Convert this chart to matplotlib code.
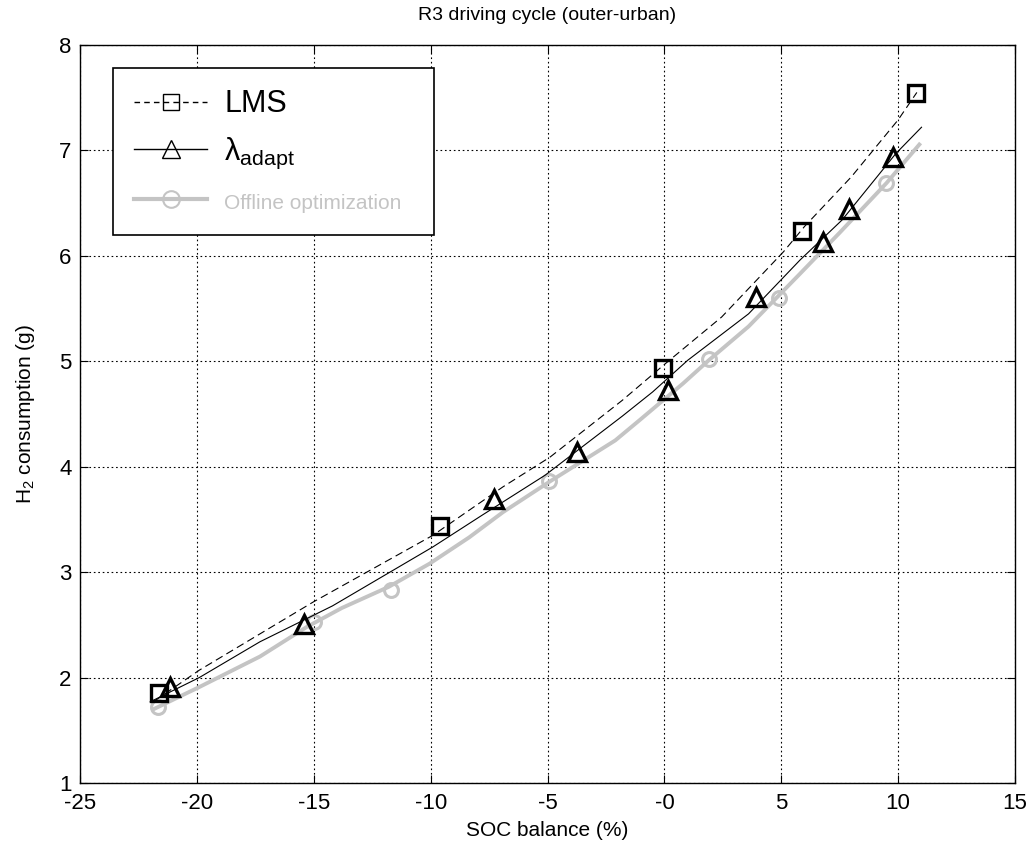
import matplotlib
matplotlib.use("Agg")
import matplotlib.pyplot as plt
from matplotlib.lines import Line2D

plt.rcParams['font.family'] = ['Liberation Sans', 'DejaVu Sans']
plt.rcParams['mathtext.fontset'] = 'custom'
plt.rcParams['mathtext.rm'] = 'Liberation Sans'
plt.rcParams['mathtext.it'] = 'Liberation Sans:italic'
plt.rcParams['mathtext.bf'] = 'Liberation Sans:bold'

title = "R3 driving cycle (outer-urban)"
xlabel = "SOC balance (%)"
ylabel = "H$_2$ consumption (g)"
series_labels = ["LMS", "λ$_{\\mathrm{adapt}}$", "Offline optimization"]

# LMS: fitted curve and measured points
lms_line_x = [-21.8, -19.9, -15.0, -9.9, -6.9, -4.9, -1.8, 0.0, 2.45, 5.1, 6.0, 8.0, 10.0, 10.8]
lms_line_y = [1.78, 2.07, 2.72, 3.35, 3.81, 4.09, 4.63, 4.97, 5.42, 6.04, 6.28, 6.75, 7.29, 7.55]
lms_pts_x = [-21.6, -9.6, -0.05, 5.9, 10.75]
lms_pts_y = [1.85, 3.44, 4.94, 6.24, 7.54]

# lambda_adapt: fitted curve and measured points
lam_line_x = [-22.0, -19.9, -17.3, -14.2, -9.9, -7.8, -5.1, -1.8, -0.5, 1.0, 3.6, 5.8, 7.6, 9.9, 11.0]
lam_line_y = [1.77, 2.00, 2.34, 2.68, 3.24, 3.54, 3.92, 4.48, 4.71, 5.01, 5.45, 5.96, 6.34, 6.97, 7.22]
lam_pts_x = [-21.13, -15.4, -7.3, -3.75, 0.15, 3.9, 6.78, 7.9, 9.78]
lam_pts_y = [1.91, 2.51, 3.69, 4.14, 4.73, 5.61, 6.13, 6.44, 6.94]

# Offline optimization: curve and points
off_line_x = [-21.95, -19.9, -17.3, -15.3, -13.8, -11.8, -10.05, -8.35, -6.9, -4.9, -2.1, -1.07, 0.8, 1.9, 3.6, 5.8, 7.5, 9.5, 10.96]
off_line_y = [1.69, 1.91, 2.20, 2.48, 2.66, 2.86, 3.08, 3.33, 3.57, 3.86, 4.25, 4.44, 4.79, 5.01, 5.33, 5.83, 6.22, 6.69, 7.07]
off_pts_x = [-21.67, -15.0, -11.7, -4.93, 1.92, 4.9, 9.46]
off_pts_y = [1.72, 2.53, 2.83, 3.86, 5.02, 5.60, 6.69]

xticks = [-25, -20, -15, -10, -5, 0, 5, 10, 15]
xticklabels = ["-25", "-20", "-15", "-10", "-5", "-0", "5", "10", "15"]
yticks = [1, 2, 3, 4, 5, 6, 7, 8]

gray = '#c4c4c4'

fig = plt.figure(figsize=(10.31, 8.49), dpi=100)
ax = fig.add_axes([0.0776, 0.0777, 0.9069, 0.8693])

ax.plot(off_line_x, off_line_y, color=gray, lw=2.8, solid_capstyle='butt', zorder=2)
ax.plot(off_pts_x, off_pts_y, ls='none', marker='o', ms=10, mfc='none', mec=gray, mew=2.2, zorder=2)
ax.plot(lam_line_x, lam_line_y, color='k', lw=0.8, zorder=3)
ax.plot(lam_pts_x, lam_pts_y, ls='none', marker='^', ms=13, mfc='none', mec='k', mew=2.4, zorder=4)
ax.plot(lms_line_x, lms_line_y, color='k', lw=0.8, ls=(0, (7, 4)), zorder=3)
ax.plot(lms_pts_x, lms_pts_y, ls='none', marker='s', ms=11, mfc='none', mec='k', mew=2.4, zorder=4)

ax.set_xlim(-25, 15)
ax.set_ylim(1, 8)
ax.set_xticks(xticks)
ax.set_xticklabels(xticklabels)
ax.set_yticks(yticks)
ax.tick_params(direction='in', top=True, right=True, length=6, width=0.8, labelsize=16)
ax.tick_params(axis='x', pad=7)
ax.tick_params(axis='y', pad=6)
ax.grid(True, color='k', ls=(0, (1.5, 2.5)), lw=0.8)
for s in ax.spines.values():
    s.set_linewidth(1.0)

ax.set_title(title, fontsize=14, pad=18)
ax.set_xlabel(xlabel, fontsize=15, labelpad=5)
ax.set_ylabel(ylabel, fontsize=15, labelpad=16)

handles = [
    Line2D([], [], color='k', ls=(0, (4, 3)), lw=1.0, marker='s', ms=11, mfc='none', mec='k', mew=1.0),
    Line2D([], [], color='k', lw=1.0, marker='^', ms=13, mfc='none', mec='k', mew=1.0),
    Line2D([], [], color=gray, lw=3.0, marker='o', ms=12, mfc='none', mec=gray, mew=1.5),
]
leg = ax.legend(handles, series_labels, loc='upper left', bbox_to_anchor=(0.035, 0.969, 0.3433, 0.0),
                mode='expand', fontsize=22, frameon=True, fancybox=False, edgecolor='k', framealpha=1,
                handlelength=2.4, handletextpad=0.55, labelspacing=0.55, borderpad=0.7,
                borderaxespad=0)
leg.get_frame().set_linewidth(1.2)
t = leg.get_texts()
t[2].set_fontsize(15)
t[2].set_color(gray)

fig.savefig("out.png", dpi=100)
